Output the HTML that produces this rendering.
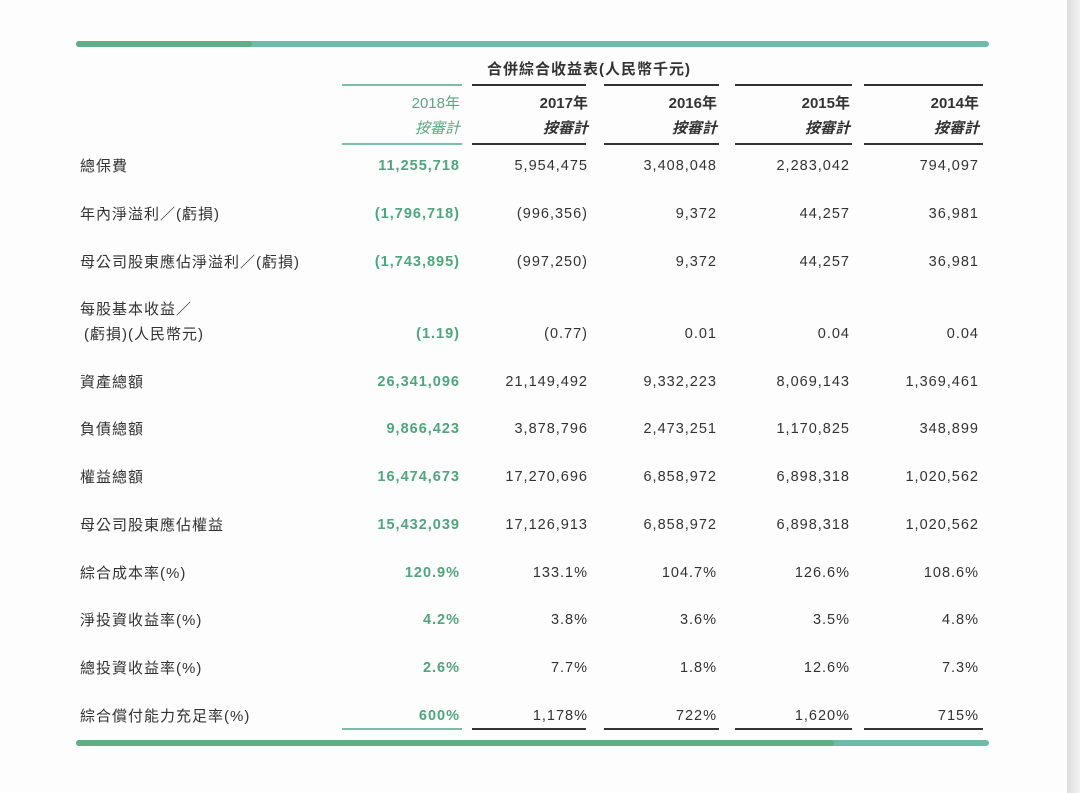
<!DOCTYPE html>
<html><head><meta charset="utf-8"><style>
body{margin:0;width:1080px;height:793px;background:#fefdfe;position:relative;overflow:hidden;font-family:"Liberation Sans","Noto Sans CJK TC",sans-serif;color:#333;}
.a{position:absolute;white-space:nowrap;}
.bar{position:absolute;height:6px;border-radius:3px;}
.ln{position:absolute;height:2px;background:#333;}
.gl{background:#7cbfa6;}
.lab{left:80px;font-size:15px;letter-spacing:1px;color:#333;}
.v{font-size:14.5px;letter-spacing:1px;text-align:right;transform:translateX(-100%);}
.g{color:#4fa57c;font-weight:bold;}
.hd{font-size:15px;font-weight:bold;text-align:right;transform:translateX(-100%);line-height:25px;}
</style></head><body>
<div class="a" style="left:1067px;top:0;width:13px;height:793px;background:linear-gradient(90deg,#ddd,#f3f3f3)"></div>
<div class="bar" style="left:76px;top:41px;width:913px;background:#6dbca9"></div>
<div class="bar" style="left:76px;top:41px;width:176px;background:#5fae85"></div>
<div class="bar" style="left:76px;top:740px;width:913px;background:#6dbca9"></div>
<div class="bar" style="left:76px;top:740px;width:758px;background:#5fae85"></div>
<div class="a" style="left:487px;top:58px;font-size:15px;font-weight:bold;letter-spacing:1px">合併綜合收益表(人民幣千元)</div>
<div id="t"></div>
<script>
const years=["2018年","2017年","2016年","2015年","2014年"];
const labels=["總保費","年內淨溢利／(虧損)","母公司股東應佔淨溢利／(虧損)","每股基本收益／","資產總額","負債總額","權益總額","母公司股東應佔權益","綜合成本率(%)","淨投資收益率(%)","總投資收益率(%)","綜合償付能力充足率(%)"];
const values=[
["11,255,718","5,954,475","3,408,048","2,283,042","794,097"],
["(1,796,718)","(996,356)","9,372","44,257","36,981"],
["(1,743,895)","(997,250)","9,372","44,257","36,981"],
["(1.19)","(0.77)","0.01","0.04","0.04"],
["26,341,096","21,149,492","9,332,223","8,069,143","1,369,461"],
["9,866,423","3,878,796","2,473,251","1,170,825","348,899"],
["16,474,673","17,270,696","6,858,972","6,898,318","1,020,562"],
["15,432,039","17,126,913","6,858,972","6,898,318","1,020,562"],
["120.9%","133.1%","104.7%","126.6%","108.6%"],
["4.2%","3.8%","3.6%","3.5%","4.8%"],
["2.6%","7.7%","1.8%","12.6%","7.3%"],
["600%","1,178%","722%","1,620%","715%"]];
const colL=[342,472,604,735,864],colR=[462,586,719,852,983],txtR=[460,588,717,850,979];
const rowY=[165,213,261,333,381,428,476,524,572,619,667,715];
const t=document.getElementById('t');
function mk(cls,style,txt){const d=document.createElement('div');d.className='a '+cls;d.style.cssText=style;if(txt!=null)d.textContent=txt;t.appendChild(d);return d;}
years.forEach((y,i)=>{
 const h=mk('hd'+(i==0?' g':''),`left:${txtR[i]}px;top:91px;`);
 
 
 h.innerHTML=y+'<br><i>按審計</i>';
 if(i==0){h.style.fontWeight='normal';h.style.color='#5aa882';}
 [84,143,728].forEach(yy=>{const l=mk('ln'+(i==0?' gl':''),`left:${colL[i]}px;top:${yy}px;width:${colR[i]-colL[i]}px;`);
 
 });
});
labels.forEach((lb,r)=>{
 const d=mk('lab',`top:${(r==3?308:rowY[r])-10}px;`,lb);
 
 
 if(r==3){const e=mk('lab',`top:${rowY[r]-10}px;left:84px;`,'(虧損)(人民幣元)');
 
 }
 values[r].forEach((v,c)=>{const e=mk('v'+(c==0?' g':''),`left:${txtR[c]}px;top:${rowY[r]-7}px;`,v);
 
 });
});
</script>
</body></html>
